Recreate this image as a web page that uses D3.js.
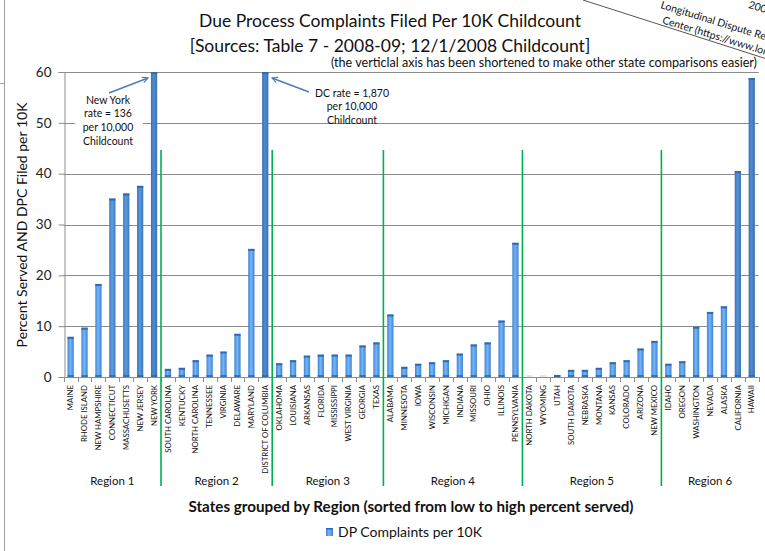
<!DOCTYPE html>
<html>
<head>
<meta charset="utf-8">
<script src="https://cdn.jsdelivr.net/npm/d3@7/dist/d3.min.js"></script>
<style>
  html, body { margin: 0; padding: 0; background: #fff; }
  svg { display: block; font-family: Lato, "Open Sans", sans-serif; }
</style>
</head>
<body>
<svg id="chart" width="765" height="551"></svg>
<script>
// States in display order, grouped by region and sorted low to high within each region
const states = [
  "MAINE", "RHODE ISLAND", "NEW HAMPSHIRE", "CONNECTICUT", "MASSACHUSETTS", "NEW JERSEY", "NEW YORK",
  "SOUTH CAROLINA", "KENTUCKY", "NORTH CAROLINA", "TENNESSEE", "VIRGINIA", "DELAWARE", "MARYLAND", "DISTRICT OF COLUMBIA",
  "OKLAHOMA", "LOUISIANA", "ARKANSAS", "FLORIDA", "MISSISSIPPI", "WEST VIRGINIA", "GEORGIA", "TEXAS",
  "ALABAMA", "MINNESOTA", "IOWA", "WISCONSIN", "MICHIGAN", "INDIANA", "MISSOURI", "OHIO", "ILLINOIS", "PENNSYLVANIA",
  "NORTH DAKOTA", "WYOMING", "UTAH", "SOUTH DAKOTA", "NEBRASKA", "MONTANA", "KANSAS", "COLORADO", "ARIZONA", "NEW MEXICO",
  "IDAHO", "OREGON", "WASHINGTON", "NEVADA", "ALASKA", "CALIFORNIA", "HAWAII"
];

// DP complaints filed per 10,000 childcount
const dpComplaints = [
  7.9, 9.7, 18.3, 35.1, 36.1, 37.6, 136,
  1.6, 1.8, 3.3, 4.4, 5.0, 8.5, 25.2, 1870,
  2.7, 3.3, 4.2, 4.4, 4.4, 4.4, 6.2, 6.8,
  12.3, 2.0, 2.6, 2.9, 3.3, 4.6, 6.4, 6.8, 11.1, 26.4,
  0, 0, 0.4, 1.4, 1.4, 1.8, 2.9, 3.3, 5.6, 7.1,
  2.6, 3.1, 9.9, 12.8, 13.9, 40.5, 58.8
];

const regionNames = ["Region 1", "Region 2", "Region 3", "Region 4", "Region 5", "Region 6"];
const regionCounts = [7, 8, 8, 10, 10, 7];

const yTicks = [0, 10, 20, 30, 40, 50, 60];

const data = states.map((s, i) => ({ state: s, value: dpComplaints[i] }));

const svg = d3.select("#chart");
const plotLeft = 63.7, plotRight = 758.7, plotTop = 72, plotBottom = 377;

const x = d3.scaleBand().domain(states).range([plotLeft, plotRight]).paddingInner(0.55).paddingOuter(0.275);
const y = d3.scaleLinear().domain([0, 60]).range([plotBottom, plotTop]).clamp(true);

const gridColor = "#8c8c8c";

// stray axis of a neighbouring chart along the left edge
svg.append("line").attr("x1", 4.5).attr("x2", 4.5).attr("y1", 0).attr("y2", 551)
  .attr("stroke", "#a0a0a0").attr("stroke-width", 1);
svg.append("line").attr("x1", 0).attr("x2", 4).attr("y1", 83.5).attr("y2", 83.5)
  .attr("stroke", "#a0a0a0").attr("stroke-width", 1);

// horizontal gridlines
svg.append("g").selectAll("line").data(yTicks.filter(t => t > 0)).join("line")
  .attr("x1", plotLeft).attr("x2", plotRight)
  .attr("y1", d => Math.round(y(d)) + 0.5).attr("y2", d => Math.round(y(d)) + 0.5)
  .attr("stroke", gridColor).attr("stroke-width", 1);

// y axis
const yAxis = svg.append("g").attr("transform", `translate(${Math.round(plotLeft) + 0.5},0)`)
  .call(d3.axisLeft(y).tickValues(yTicks).tickSize(6).tickPadding(7));
yAxis.select(".domain").attr("stroke", gridColor);
yAxis.selectAll(".tick line").attr("stroke", gridColor);
yAxis.selectAll(".tick text").attr("font-size", 13.5).attr("fill", "#222").attr("font-family", "Lato");

// x baseline and category tick marks at band boundaries
svg.append("line").attr("x1", plotLeft).attr("x2", plotRight)
  .attr("y1", plotBottom + 0.5).attr("y2", plotBottom + 0.5).attr("stroke", gridColor);
const half = (x.step() - x.bandwidth()) / 2;
const boundaries = states.map(s => x(s) - half).concat([plotRight]);
svg.append("g").selectAll("line").data(boundaries).join("line")
  .attr("x1", d => Math.round(d) + 0.5).attr("x2", d => Math.round(d) + 0.5)
  .attr("y1", plotBottom).attr("y2", plotBottom + 5)
  .attr("stroke", gridColor);

// bar gradients: lighter centre, shade deepens for taller bars
const defs = svg.append("defs");
const edgeScale = d3.interpolateRgb("#3f82d4", "#3c70b2");
const centerScale = d3.interpolateRgb("#74b7f8", "#4f8bd0");
data.forEach((d, i) => {
  const t = Math.max(0, Math.min(1, (d.value - 25) / 18));
  const g = defs.append("linearGradient").attr("id", "bar" + i)
    .attr("x1", "0%").attr("x2", "100%").attr("y1", "0%").attr("y2", "0%");
  g.append("stop").attr("offset", "0%").attr("stop-color", edgeScale(t));
  g.append("stop").attr("offset", "45%").attr("stop-color", centerScale(t));
  g.append("stop").attr("offset", "100%").attr("stop-color", edgeScale(t));
});

const bars = svg.append("g");
bars.selectAll("rect.bar").data(data).join("rect").attr("class", "bar")
  .attr("x", d => x(d.state)).attr("width", x.bandwidth())
  .attr("y", d => y(d.value)).attr("height", d => plotBottom - y(d.value))
  .attr("fill", (d, i) => `url(#bar${i})`);
// top caps
bars.selectAll("rect.cap").data(data).join("rect").attr("class", "cap")
  .attr("x", d => x(d.state)).attr("width", x.bandwidth())
  .attr("y", d => Math.min(y(d.value), plotBottom - 2)).attr("height", 2)
  .attr("fill", d => d.value > 0.2 ? "#3469b2" : "#e6e6e6");
// base shading
bars.selectAll("rect.base").data(data.filter(d => d.value > 0.2)).join("rect").attr("class", "base")
  .attr("x", d => x(d.state)).attr("width", x.bandwidth())
  .attr("y", plotBottom - 2).attr("height", 2)
  .attr("fill", "#2f64ab").attr("opacity", 0.8);

// category labels, rotated
svg.append("g").selectAll("text").data(states).join("text")
  .attr("transform", d => `translate(${x(d) + x.bandwidth() / 2},385) rotate(-90)`)
  .attr("dy", "0.35em")
  .attr("text-anchor", "end")
  .attr("font-size", 7.8)
  .attr("fill", "#111")
  .text(d => d);

// region separators and region labels
let cum = 0;
const regionSpans = regionCounts.map((c, i) => {
  const a = boundaries[cum], b = boundaries[cum + c];
  cum += c;
  return { name: regionNames[i], a, b };
});
svg.append("g").selectAll("line").data(regionSpans.slice(1)).join("line")
  .attr("x1", d => d.a).attr("x2", d => d.a)
  .attr("y1", 150).attr("y2", 486)
  .attr("stroke", "#00b050").attr("stroke-width", 1.6);
svg.append("g").selectAll("text").data(regionSpans).join("text")
  .attr("x", d => (d.a + d.b) / 2).attr("y", 481)
  .attr("dy", "0.35em").attr("text-anchor", "middle")
  .attr("font-size", 11.5).attr("fill", "#111")
  .text(d => d.name);

// titles
svg.append("text").attr("x", 390).attr("y", 27).attr("text-anchor", "middle")
  .attr("font-size", 17.5).attr("fill", "#111")
  .text("Due Process Complaints Filed Per 10K Childcount");
svg.append("text").attr("x", 390).attr("y", 52).attr("text-anchor", "middle")
  .attr("font-size", 17.5).attr("fill", "#111")
  .text("[Sources: Table 7 - 2008-09; 12/1/2008 Childcount]");
svg.append("text").attr("x", 757).attr("y", 67).attr("text-anchor", "end")
  .attr("font-size", 12.6).attr("fill", "#111")
  .text("(the verticlal axis has been shortened to make other state comparisons easier)");

// axis titles
svg.append("text").attr("transform", "translate(22,225) rotate(-90)")
  .attr("dy", "0.35em").attr("text-anchor", "middle")
  .attr("font-size", 14).attr("fill", "#111")
  .text("Percent Served AND DPC Filed per 10K");
svg.append("text").attr("x", 411).attr("y", 507).attr("dy", "0.35em").attr("text-anchor", "middle")
  .attr("font-size", 15.2).attr("font-weight", "bold").attr("fill", "#111")
  .text("States grouped by Region (sorted from low to high percent served)");

// legend
const lg = svg.append("g");
lg.append("rect").attr("x", 326).attr("y", 528).attr("width", 7).attr("height", 8).attr("fill", "url(#bar0)");
lg.append("rect").attr("x", 326).attr("y", 528).attr("width", 7).attr("height", 1.5).attr("fill", "#3469b2");
lg.append("text").attr("x", 338).attr("y", 532).attr("dy", "0.35em")
  .attr("font-size", 14).attr("fill", "#111").text("DP Complaints per 10K");

// callouts for the two off-scale values
defs.append("marker").attr("id", "arrow").attr("viewBox", "0 0 10 10")
  .attr("refX", 9).attr("refY", 5).attr("markerWidth", 7).attr("markerHeight", 7)
  .attr("orient", "auto-start-reverse").attr("markerUnits", "userSpaceOnUse")
  .append("path").attr("d", "M1,1 L9,5 L1,9").attr("fill", "none")
  .attr("stroke", "#4a7ebb").attr("stroke-width", 1.6);

svg.append("rect").attr("x", 75).attr("y", 92).attr("width", 68).attr("height", 58).attr("fill", "#fff");
svg.append("line").attr("x1", 109).attr("y1", 93).attr("x2", 148).attr("y2", 78)
  .attr("stroke", "#4a7ebb").attr("stroke-width", 1.5).attr("marker-end", "url(#arrow)");
svg.append("line").attr("x1", 309).attr("y1", 92).attr("x2", 272).attr("y2", 78)
  .attr("stroke", "#4a7ebb").attr("stroke-width", 1.5).attr("marker-end", "url(#arrow)");

const nyLines = ["New York", "rate = " + dpComplaints[states.indexOf("NEW YORK")], "per 10,000", "Childcount"];
svg.append("g").selectAll("text").data(nyLines).join("text")
  .attr("x", 108).attr("y", (d, i) => 100 + i * 13.7).attr("dy", "0.35em")
  .attr("text-anchor", "middle").attr("font-size", 10.5).attr("fill", "#111").text(d => d);

const dcLines = ["DC rate = " + d3.format(",")(dpComplaints[states.indexOf("DISTRICT OF COLUMBIA")]), "per 10,000", "Childcount"];
svg.append("g").selectAll("text").data(dcLines).join("text")
  .attr("x", 352).attr("y", (d, i) => 93 + i * 13.5).attr("dy", "0.35em")
  .attr("text-anchor", "middle").attr("font-size", 10.5).attr("fill", "#111").text(d => d);

// rotated source note in the corner
svg.append("line").attr("x1", 583).attr("y1", 0).attr("x2", 770).attr("y2", 60)
  .attr("stroke", "#555").attr("stroke-width", 1);
const note = svg.append("g").attr("transform", "translate(660,8) rotate(17)")
  .attr("font-size", 10.5).attr("fill", "#111");
note.append("text").attr("x", 84).attr("y", -26).text("2000.");
note.append("text").attr("x", 0).attr("y", 0).text("Longitudinal Dispute Resolution");
note.append("text").attr("x", 6).attr("y", 14).text("Center (https://www.longitudinal");
</script>
</body>
</html>
